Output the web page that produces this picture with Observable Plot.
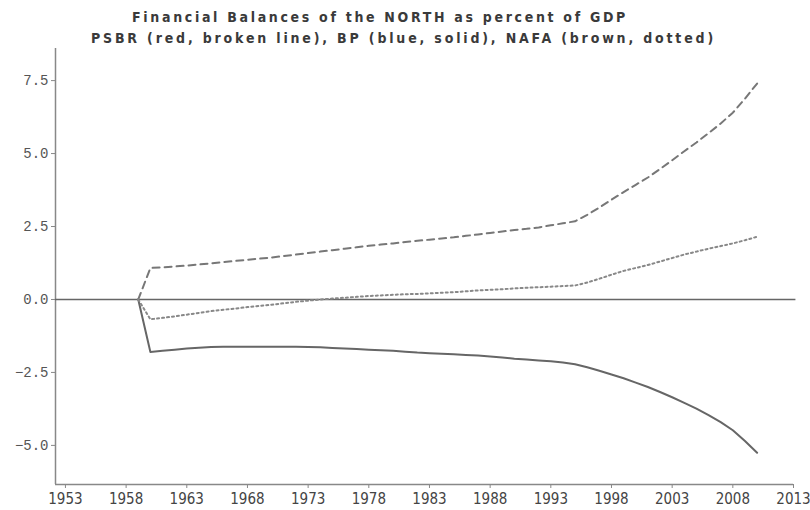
<!DOCTYPE html>
<html>
<head>
<meta charset="utf-8">
<script src="https://cdn.jsdelivr.net/npm/d3@7"></script>
<script src="https://cdn.jsdelivr.net/npm/@observablehq/plot@0.6"></script>
<style>
  html, body { margin: 0; padding: 0; background: #fff; }
  #wrap { position: relative; width: 810px; height: 510px; }
  .t { position: absolute; left: 0; width: 810px; font-family: "DejaVu Sans Condensed", "DejaVu Sans", sans-serif; font-weight: bold; font-size: 14px; color: #3a3a3a; white-space: nowrap; }
  #t1 { top: 9px; }
  #t2 { top: 30px; }
  #chart { position: absolute; left: 0; top: 46px; }
</style>
</head>
<body>
<div id="wrap">
  <div class="t" id="t1"><span id="s1">Financial Balances of the NORTH as percent of GDP</span></div>
  <div class="t" id="t2"><span id="s2">PSBR (red, broken line), BP (blue, solid), NAFA (brown, dotted)</span></div>
  <div id="chart"></div>
</div>
<script>
const years = d3.range(1959, 2011);
const psbr = [0, 1.08, 1.10, 1.13, 1.16, 1.20, 1.24, 1.28, 1.32, 1.36, 1.40, 1.44, 1.49, 1.54, 1.59, 1.64, 1.69, 1.74, 1.79, 1.84, 1.88, 1.92, 1.97, 2.01, 2.05, 2.09, 2.13, 2.18, 2.23, 2.28, 2.33, 2.38, 2.42, 2.47, 2.54, 2.61, 2.68, 2.90, 3.15, 3.42, 3.68, 3.93, 4.18, 4.47, 4.77, 5.08, 5.38, 5.70, 6.03, 6.40, 6.88, 7.40];
const bp = [0, -1.80, -1.76, -1.72, -1.68, -1.65, -1.63, -1.62, -1.62, -1.62, -1.62, -1.62, -1.62, -1.62, -1.63, -1.64, -1.66, -1.68, -1.70, -1.72, -1.74, -1.76, -1.79, -1.82, -1.84, -1.86, -1.88, -1.90, -1.92, -1.95, -1.99, -2.03, -2.06, -2.09, -2.12, -2.16, -2.22, -2.32, -2.44, -2.57, -2.70, -2.85, -3.00, -3.17, -3.35, -3.54, -3.74, -3.96, -4.20, -4.48, -4.85, -5.25];
const nafa = [0, -0.68, -0.63, -0.58, -0.52, -0.46, -0.40, -0.35, -0.31, -0.26, -0.22, -0.18, -0.13, -0.08, -0.04, 0.00, 0.03, 0.06, 0.09, 0.12, 0.14, 0.16, 0.18, 0.19, 0.21, 0.23, 0.25, 0.28, 0.31, 0.33, 0.35, 0.38, 0.40, 0.42, 0.44, 0.46, 0.48, 0.58, 0.71, 0.85, 0.98, 1.08, 1.18, 1.30, 1.42, 1.54, 1.64, 1.74, 1.83, 1.92, 2.03, 2.15];
const xTicks = [1953, 1958, 1963, 1968, 1973, 1978, 1983, 1988, 1993, 1998, 2003, 2008, 2013];
const yTicks = [-5.0, -2.5, 0.0, 2.5, 5.0, 7.5];

const rows = (vals) => years.map((y, i) => ({year: y, value: vals[i]}));
const xDomain = [1952.18, 2013];
const yDomain = [-6.34, 8.6];

const chart = Plot.plot({
  width: 810,
  height: 464,
  marginLeft: 55,
  marginRight: 17,
  marginTop: 2,
  marginBottom: 26,
  x: {domain: xDomain, ticks: xTicks, tickFormat: d => String(d), tickSize: 4, label: null},
  y: {domain: yDomain, ticks: yTicks, tickFormat: d3.format(".1f"), tickSize: 4, label: null},
  style: {background: "#fff", color: "#666"},
  marks: [
    Plot.axisX({ticks: xTicks, tickFormat: d => String(d), tickSize: 4, tickPadding: 5, fontSize: 15, fontFamily: "DejaVu Sans Condensed, DejaVu Sans, sans-serif", fill: "#444", stroke: "#888", label: null}),
    Plot.axisY({ticks: yTicks, tickFormat: d3.format(".1f"), tickSize: 4, tickPadding: 3, fontSize: 14, fontFamily: "Liberation Mono, monospace", fill: "#555", stroke: "#888", label: null, style: {letterSpacing: "1.2px", fontWeight: "bold"}}),
    Plot.ruleX([xDomain[0]], {stroke: "#888", strokeWidth: 1.5}),
    Plot.ruleY([yDomain[0]], {stroke: "#888", strokeWidth: 1.5}),
    Plot.ruleY([0], {x1: xDomain[0], x2: 2013.2, stroke: "#666", strokeWidth: 1.3}),
    Plot.line(rows(bp), {x: "year", y: "value", stroke: "#666", strokeWidth: 2}),
    Plot.line(rows(psbr), {x: "year", y: "value", stroke: "#777", strokeWidth: 2, strokeDasharray: "7,5"}),
    Plot.line(rows(nafa), {x: "year", y: "value", stroke: "#888", strokeWidth: 2, strokeDasharray: "2,3"})
  ]
});
document.getElementById("chart").appendChild(chart);

// position title lines (measured from reference)
function place(id, left, right) {
  const s = document.getElementById(id);
  const w = s.getBoundingClientRect().width;
  const target = right - left;
  s.style.display = "inline-block";
  s.style.letterSpacing = ((target - w) / s.textContent.length) + "px";
  s.parentElement.style.paddingLeft = left + "px";
}
place("s1", 132, 628);
place("s2", 91, 716);
</script>
</body>
</html>
